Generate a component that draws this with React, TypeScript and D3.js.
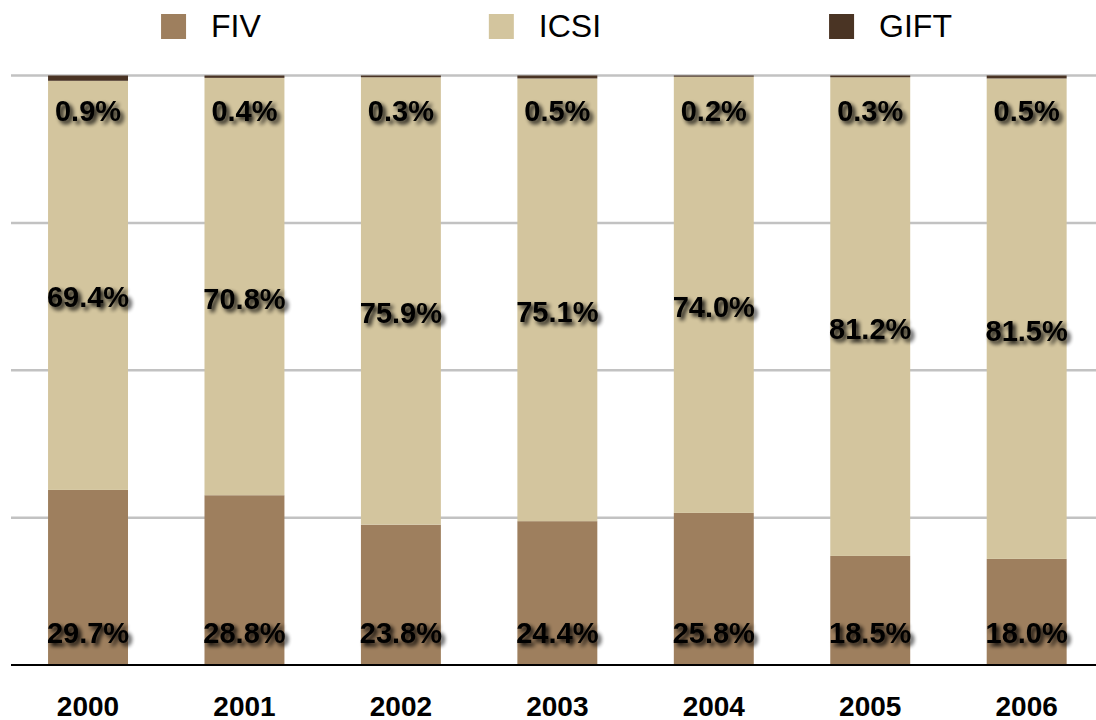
import React, { useEffect, useRef } from "react";
import * as d3 from "d3";

const years = ["2000", "2001", "2002", "2003", "2004", "2005", "2006"];
const fiv = [29.7, 28.8, 23.8, 24.4, 25.8, 18.5, 18.0];
const icsi = [69.4, 70.8, 75.9, 75.1, 74.0, 81.2, 81.5];
const gift = [0.9, 0.4, 0.3, 0.5, 0.2, 0.3, 0.5];
const seriesNames = ["FIV", "ICSI", "GIFT"];
const yTicks = [0, 25, 50, 75, 100];

const colors = ["#9e7f5e", "#d3c59e", "#4a3424"];
const FONT = "'Liberation Sans', Arial, Helvetica, sans-serif";

export default function App() {
  const ref = useRef<SVGSVGElement>(null);

  useEffect(() => {
    const W = 1096;
    const svg = d3.select(ref.current!);
    svg.selectAll("*").remove();

    const defs = svg.append("defs");
    const f = defs.append("filter").attr("id", "sh").attr("x", "-20%").attr("y", "-40%").attr("width", "150%").attr("height", "200%");
    f.append("feGaussianBlur").attr("in", "SourceAlpha").attr("stdDeviation", 2.2).attr("result", "b");
    f.append("feOffset").attr("in", "b").attr("dx", 3).attr("dy", 3).attr("result", "o");
    f.append("feComponentTransfer").attr("in", "o").attr("result", "o2")
      .append("feFuncA").attr("type", "linear").attr("slope", 0.95);
    const m = f.append("feMerge");
    m.append("feMergeNode").attr("in", "o2");
    m.append("feMergeNode").attr("in", "SourceGraphic");

    const x = d3.scaleBand<string>().domain(years).range([9.8, 1104.9]).paddingInner(0.489).paddingOuter(0.2445);
    const y = d3.scaleLinear().domain([0, 100]).range([665, 75.5]);

    // gridlines
    svg.append("g").selectAll("line").data(yTicks.filter(t => t > 0)).join("line")
      .attr("x1", 11).attr("x2", W).attr("y1", d => y(d)).attr("y2", d => y(d))
      .attr("stroke", "#c2c2c2").attr("stroke-width", 2.5);

    const rows = years.map((yr, i) => ({ year: yr, FIV: fiv[i], ICSI: icsi[i], GIFT: gift[i] }));
    const stack = d3.stack<any>().keys(seriesNames)(rows);

    stack.forEach((s, si) => {
      svg.append("g").selectAll("rect").data(s).join("rect")
        .attr("x", d => x(d.data.year)!)
        .attr("width", x.bandwidth())
        .attr("y", d => y(d[1]))
        .attr("height", d => y(d[0]) - y(d[1]))
        .attr("fill", colors[si]);
    });

    // baseline
    svg.append("line").attr("x1", 11).attr("x2", W).attr("y1", y(0)).attr("y2", y(0))
      .attr("stroke", "#000").attr("stroke-width", 2);

    // value labels
    const lab = svg.append("g").attr("font-family", FONT).attr("font-weight", "bold")
      .attr("font-size", 29).attr("text-anchor", "middle").attr("filter", "url(#sh)");
    rows.forEach((r, i) => {
      const cx = x(r.year)! + x.bandwidth() / 2;
      lab.append("text").attr("x", cx).attr("y", y(0) - 22).text(fiv[i].toFixed(1) + "%");
      const mid = (y(fiv[i]) + y(fiv[i] + icsi[i])) / 2;
      lab.append("text").attr("x", cx).attr("y", mid + 22).text(icsi[i].toFixed(1) + "%");
      lab.append("text").attr("x", cx).attr("y", y(100) + 45).text(gift[i].toFixed(1) + "%");
    });

    // x tick labels
    svg.append("g").attr("font-family", FONT).attr("font-weight", "bold").attr("font-size", 28)
      .attr("text-anchor", "middle").selectAll("text").data(years).join("text")
      .attr("x", d => x(d)! + x.bandwidth() / 2).attr("y", 716).text(d => d);

    // legend
    const leg = svg.append("g").attr("font-family", FONT).attr("font-size", 32);
    const items = seriesNames.map((n, i) => {
      const g = leg.append("g");
      g.append("rect").attr("x", 0).attr("y", 14).attr("width", 25).attr("height", 25).attr("fill", colors[i]);
      const t = g.append("text").attr("x", 50).attr("y", 37).attr("fill", "#000").text(n);
      const w = 50 + (t.node() as SVGTextElement).getComputedTextLength();
      return { g, w };
    });
    const gap = 228;
    const total = d3.sum(items, d => d.w) + gap * (items.length - 1);
    let cur = 556.5 - total / 2;
    items.forEach(it => {
      it.g.attr("transform", `translate(${cur},0)`);
      cur += it.w + gap;
    });
  }, []);

  return (
    <svg ref={ref} width={1096} height={720}
      style={{ position: "fixed", left: 0, top: 0, background: "#fff" }} />
  );
}
